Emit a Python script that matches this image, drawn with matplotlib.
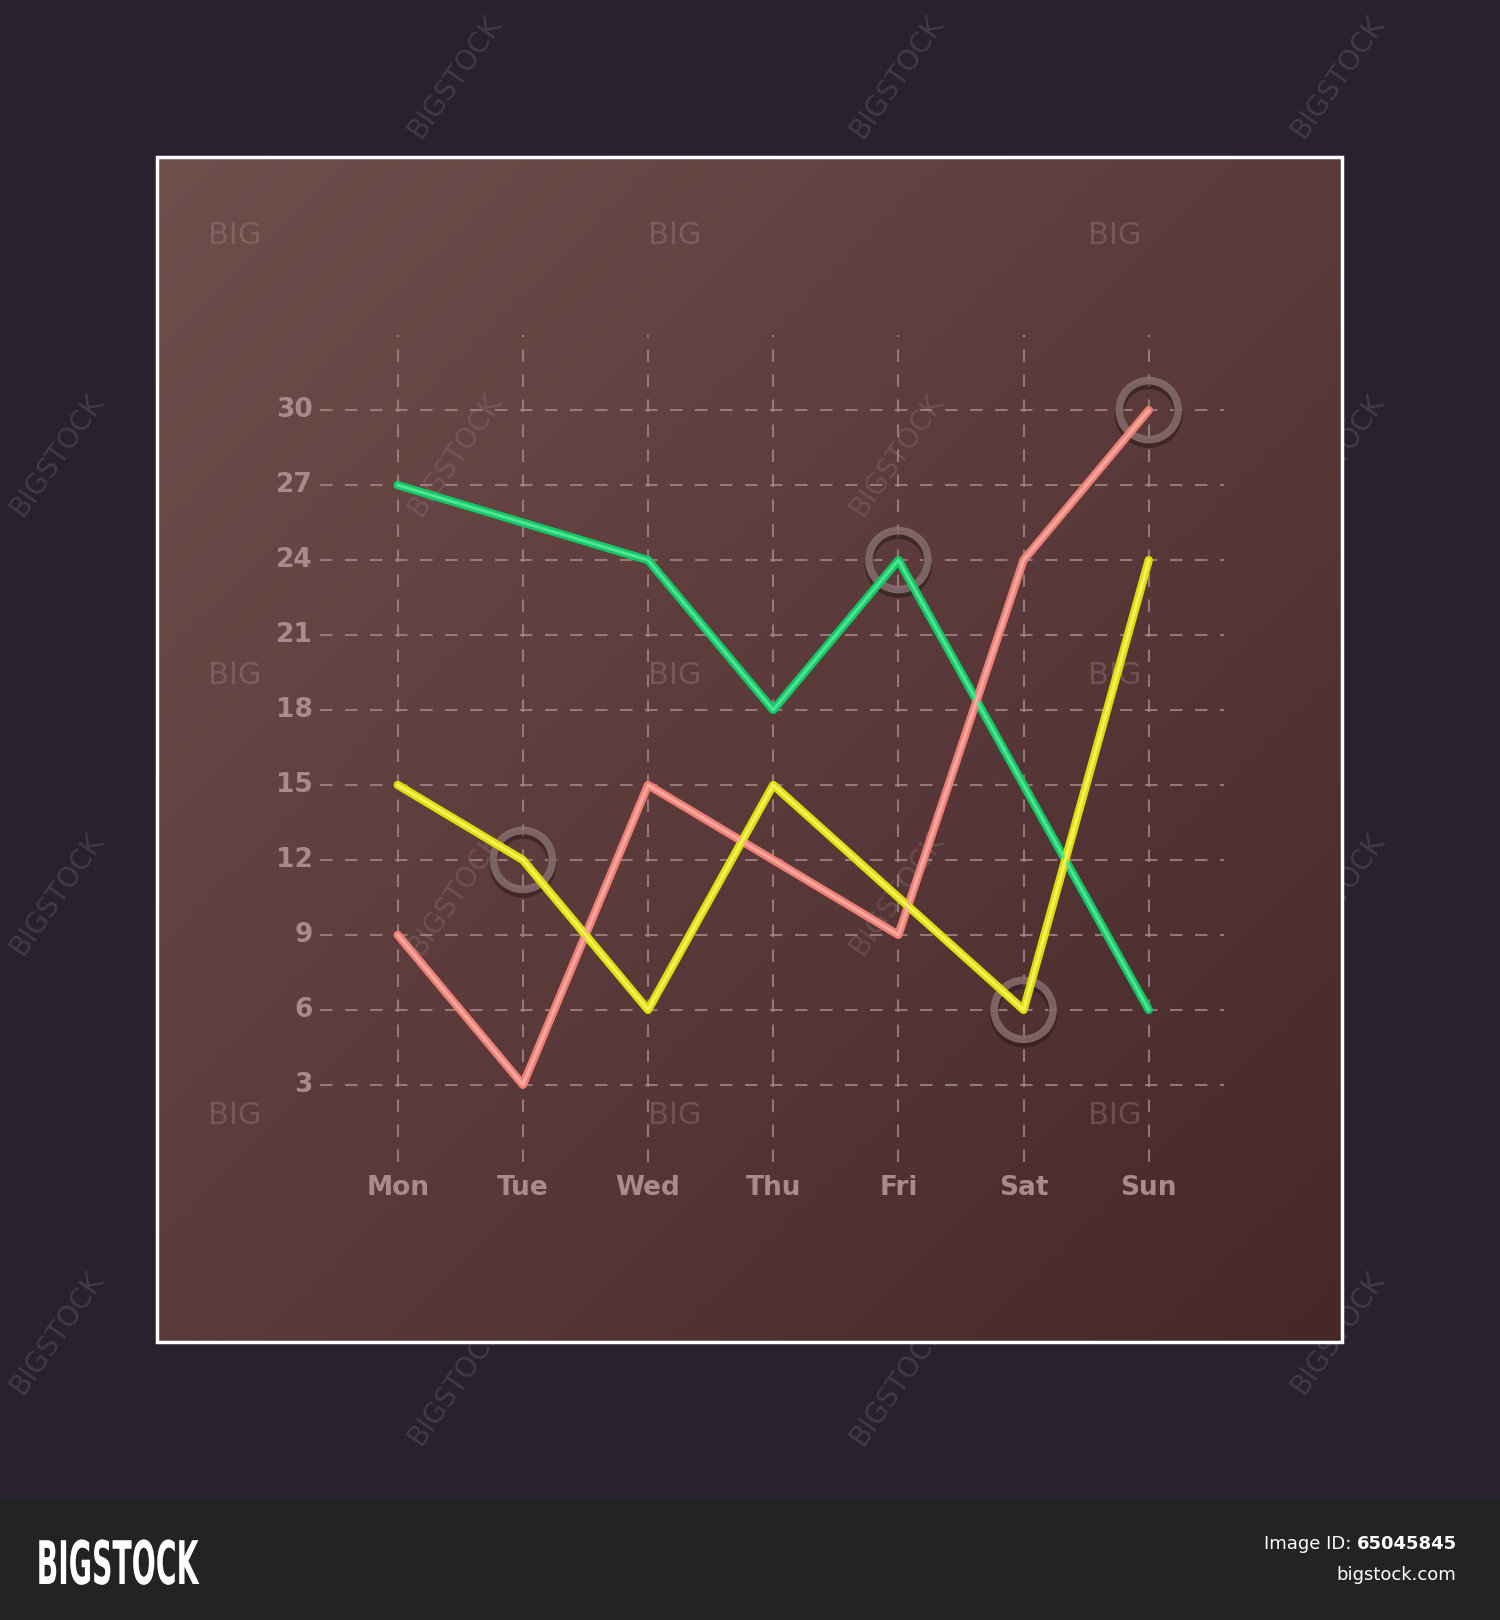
import numpy as np
import matplotlib.pyplot as plt
from matplotlib.patches import Rectangle, PathPatch
from matplotlib.textpath import TextPath
from matplotlib.font_manager import FontProperties
from matplotlib.transforms import Affine2D

plt.rcParams['lines.scale_dashes'] = False

days = ['Mon', 'Tue', 'Wed', 'Thu', 'Fri', 'Sat', 'Sun']
y_ticks = [3, 6, 9, 12, 15, 18, 21, 24, 27, 30]

green = [27, 25.5, 24, 18, 24, 15, 6]
pink = [9, 3, 15, 12, 9, 24, 30]
yellow = [15, 12, 6, 15, 10.5, 6, 24]

# highlighted points (ring markers)
ring_x = [6, 4, 1, 5]
ring_y = [30, 24, 12, 6]

W, H = 1452.0, 1568.0  # reference pixel space


def fx(px):
    return px / W


def fy(py):
    return 1 - py / H


fig = plt.figure(figsize=(15, 16.2), dpi=100)
fig.patch.set_facecolor('#28222e')

# bottom banner
bg = fig.add_axes([0, 0, 1, 1])
bg.set_xlim(0, 1)
bg.set_ylim(0, 1)
bg.axis('off')
bg.add_patch(Rectangle((0, 0), 1, fy(1452), color='#232323', zorder=1))

# condensed logo text: draw as a path squeezed horizontally
tp = TextPath((0, 0), 'BIGSTOCK', size=1, prop=FontProperties(family='DejaVu Sans', weight='bold'))
ext = tp.get_extents()
sx = (fx(193) - fx(38)) / ext.width
sy = (fy(1490) - fy(1534)) / ext.height
tr = Affine2D().translate(-ext.x0, -ext.y0).scale(sx, sy).translate(fx(38), fy(1534))
bg.add_patch(PathPatch(tr.transform_path(tp), facecolor='white', edgecolor='none', zorder=3))

bg.text(fx(1308), fy(1494), 'Image ID:', color='white', fontsize=13,
        va='center', ha='right')
bg.text(fx(1410), fy(1494), '65045845', color='white', fontsize=13, fontweight='bold',
        va='center', ha='right')
bg.text(fx(1410), fy(1524), 'bigstock.com', color='white', fontsize=13,
        va='center', ha='right')

# outer watermarks
for (px, py) in [(55, 440), (55, 865), (55, 1290), (1295, 440), (1295, 865), (1295, 1290),
                 (440, 1340), (868, 1340), (440, 75), (868, 75), (1295, 75)]:
    bg.text(fx(px), fy(py), 'BIGSTOCK', color='#9a90a0', alpha=0.22, fontsize=20,
            rotation=55, ha='center', va='center', zorder=2)

# chart panel
x0, x1, y0, y1 = 152, 1299, 152, 1299
ax = fig.add_axes([fx(x0), fy(y1), fx(x1) - fx(x0), fy(y0) - fy(y1)])
ux = (1112 - 385) / 6.0
uy = (1050 - 397) / 27.0
xl = (0 - (385 - x0) / ux, 6 + (x1 - 1112) / ux)
yl = (3 - (y1 - 1050) / uy, 30 + (397 - y0) / uy)
ax.set_xlim(*xl)
ax.set_ylim(*yl)
ax.axis('off')

# gradient background
gx, gy = np.meshgrid(np.linspace(0, 1, 200), np.linspace(0, 1, 200))
t = (gx + gy) / 2
c0 = np.array([112, 78, 76]) / 255.0
c1 = np.array([70, 40, 41]) / 255.0
img = c0[None, None, :] * (1 - t[..., None]) + c1[None, None, :] * t[..., None]
ax.imshow(img, extent=[xl[0], xl[1], yl[0], yl[1]], origin='upper', aspect='auto', zorder=0)

# watermark "BIG" and inner BIGSTOCK
for (px, py) in [(227, 228), (653, 228), (1079, 228), (227, 654), (653, 654), (1079, 654),
                 (227, 1080), (653, 1080), (1079, 1080)]:
    ax.text(xl[0] + (px - x0) / ux, yl[1] - (py - y0) / uy, 'BIG', color='#b09898',
            alpha=0.3, fontsize=22, ha='center', va='center', zorder=1)
for (px, py) in [(440, 440), (868, 440), (440, 865), (868, 865)]:
    ax.text(xl[0] + (px - x0) / ux, yl[1] - (py - y0) / uy, 'BIGSTOCK', color='#b09898',
            alpha=0.22, fontsize=20, rotation=55, ha='center', va='center', zorder=1)

grid_c = '#a58a8a'
gx0, gx1 = -0.62, 6.6
gy0, gy1 = -0.1, 33.0
for v in y_ticks:
    ax.plot([gx0, gx1], [v, v], color=grid_c, lw=1.5, dashes=(9, 9), alpha=0.8, zorder=2)
for i in range(len(days)):
    ax.plot([i, i], [gy0, gy1], color=grid_c, lw=1.5, dashes=(9, 9), alpha=0.8, zorder=2)

lab_c = '#a98b89'
for v in y_ticks:
    ax.text(-0.68, v, str(v), color=lab_c, fontsize=19, fontweight='bold',
            ha='right', va='center', zorder=3)
for i, d in enumerate(days):
    ax.text(i, 3 - (1150 - 1050) / uy, d, color=lab_c, fontsize=19, fontweight='bold',
            ha='center', va='center', zorder=3)

# rings
ax.scatter(ring_x, np.array(ring_y) - 0.15, s=1800, facecolors='none',
           edgecolors='#2a1818', linewidths=6.5, alpha=0.55, zorder=3)
ax.scatter(ring_x, ring_y, s=1800, facecolors='none',
           edgecolors='#8c7474', linewidths=5.5, alpha=0.8, zorder=4)

x = np.arange(len(days))
series = [
    (green, '#13c866', '#4fe493'),
    (pink, '#f07e72', '#f8aaa2'),
    (yellow, '#dede08', '#f4f25a'),
]
for vals, outer, inner in series:
    ax.plot(x, vals, color=outer, lw=6, solid_joinstyle='round',
            solid_capstyle='round', zorder=5)
    ax.plot(x, vals, color=inner, lw=2.2, solid_joinstyle='round',
            solid_capstyle='round', zorder=6)

# white frame
bg2 = fig.add_axes([0, 0, 1, 1], facecolor='none')
bg2.set_xlim(0, 1)
bg2.set_ylim(0, 1)
bg2.axis('off')
bg2.add_patch(Rectangle((fx(x0), fy(y1)), fx(x1) - fx(x0), fy(y0) - fy(y1),
                        fill=False, edgecolor='white', lw=2.5))

fig.savefig('out.png', dpi=100, facecolor=fig.get_facecolor())
